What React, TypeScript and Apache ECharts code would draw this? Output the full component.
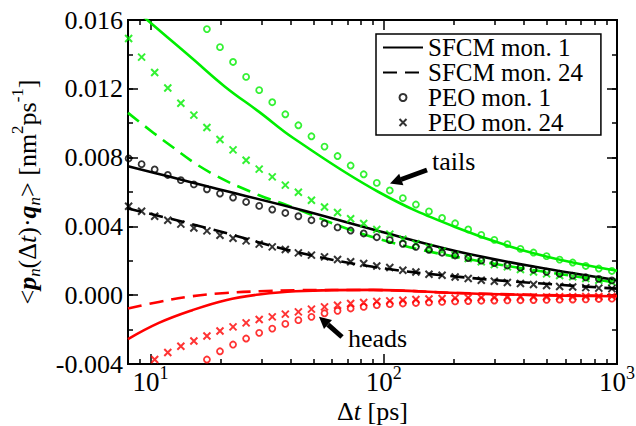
import React, { useEffect, useRef } from 'react';
import * as echarts from 'echarts';

const FONT = '"Liberation Serif", "Times New Roman", Times, serif';
const GREEN = '#00ee00';
const RED = '#ff0000';
const BLACK = '#000000';

// Sampling times (ps) of the PEO marker series
const markerX = [8.05, 9.15, 10.41, 11.85, 13.48, 15.33, 17.44, 19.84, 22.57, 25.68, 29.22, 33.24, 37.82, 43.02, 48.95, 55.69, 63.35, 72.08, 81.99, 93.3, 106.1, 120.7, 137.3, 156.2, 177.8, 202.2, 230.1, 261.8, 297.8, 338.8, 385.5, 438.5, 498.9, 567.6, 645.7, 734.6, 835.7, 950.7];

// PEO markers (values start at the given index of markerX)
const peo1AllStart = 0;
const peo1All = [0.00795, 0.00762, 0.00731, 0.00699, 0.00669, 0.00644, 0.00616, 0.00591, 0.00568, 0.00542, 0.00519, 0.00498, 0.00478, 0.00459, 0.00436, 0.00417, 0.00394, 0.00376, 0.00359, 0.00337, 0.0032, 0.00299, 0.00281, 0.00264, 0.00247, 0.00231, 0.00216, 0.00201, 0.00187, 0.00173, 0.0016, 0.00148, 0.00136, 0.00125, 0.00114, 0.00104, 0.00095, 0.00086];
const peo24AllStart = 0;
const peo24All = [0.00517, 0.00488, 0.00459, 0.00436, 0.00413, 0.00391, 0.00374, 0.00349, 0.00331, 0.00316, 0.00297, 0.00281, 0.00266, 0.00246, 0.00233, 0.00223, 0.00208, 0.00194, 0.00184, 0.0017, 0.00161, 0.00145, 0.00135, 0.00122, 0.00116, 0.00106, 0.00097, 0.00087, 0.00081, 0.00074, 0.00068, 0.00062, 0.00056, 0.00051, 0.00048, 0.00044, 0.00041, 0.00038];
const peo1TailsStart = 6;
const peo1Tails = [0.01547, 0.01442, 0.01356, 0.01269, 0.01192, 0.01122, 0.01052, 0.00988, 0.00924, 0.00864, 0.00809, 0.00754, 0.00703, 0.00653, 0.00609, 0.00564, 0.00527, 0.00487, 0.00449, 0.00418, 0.00382, 0.00351, 0.00322, 0.00297, 0.00269, 0.00248, 0.00227, 0.00207, 0.0019, 0.0017, 0.00155, 0.00141];
const peo24TailsStart = 0;
const peo24Tails = [0.01492, 0.01384, 0.01295, 0.01205, 0.01116, 0.01047, 0.00975, 0.00905, 0.00845, 0.00785, 0.00733, 0.00688, 0.0064, 0.00599, 0.00552, 0.00513, 0.00481, 0.00444, 0.00417, 0.00382, 0.00355, 0.00326, 0.003, 0.00277, 0.00256, 0.00233, 0.00213, 0.00194, 0.00178, 0.00165, 0.00149, 0.00135, 0.00124, 0.00115, 0.00107, 0.00097, 0.00087, 0.00077];
const peo1HeadsStart = 6;
const peo1Heads = [-0.00374, -0.00326, -0.00287, -0.00252, -0.00219, -0.00194, -0.00167, -0.00145, -0.00126, -0.00105, -0.00091, -0.00077, -0.00068, -0.00058, -0.00052, -0.00048, -0.00045, -0.00042, -0.00039, -0.00036, -0.00034, -0.00032, -0.00031, -0.0003, -0.00029, -0.00028, -0.00027, -0.00026, -0.00025, -0.00024, -0.00022, -0.0002];
const peo24HeadsStart = 2;
const peo24Heads = [-0.00374, -0.00333, -0.00297, -0.00266, -0.00237, -0.00208, -0.00184, -0.00161, -0.00141, -0.00126, -0.0011, -0.00097, -0.00081, -0.00068, -0.00058, -0.00048, -0.00042, -0.00037, -0.00033, -0.00029, -0.00025, -0.00022, -0.00019, -0.00017, -0.00015, -0.00014, -0.00013, -0.00012, -0.00011, -0.0001, -0.0001, -0.00009, -0.00009, -0.00008, -0.00008, -0.00007];

// SFCM curves
const sfcm1AllX = [8, 12, 17.8, 41.9, 89.9, 205, 445, 1000];
const sfcm1AllY = [0.0075, 0.0069, 0.0063, 0.00504, 0.00382, 0.00256, 0.00165, 0.00087];
const sfcm24AllX = [8, 17.8, 41, 90, 205, 450, 1000];
const sfcm24AllY = [0.00504, 0.00388, 0.00255, 0.00165, 0.00108, 0.0007, 0.00038];
const sfcm1TailsX = [8, 9.68, 15.1, 20.9, 29.2, 41.2, 95, 202, 443, 1000];
const sfcm1TailsY = [0.0170, 0.0160, 0.01376, 0.01211, 0.01066, 0.00911, 0.006, 0.00397, 0.00242, 0.00142];
const sfcm24TailsX = [8, 11.6, 17.8, 29.2, 36.8, 84.3, 200, 950, 1000];
const sfcm24TailsY = [0.0106, 0.00891, 0.00717, 0.00581, 0.00533, 0.00349, 0.00225, 0.00077, 0.00075];
const sfcm1HeadsX = [8, 10.85, 15.1, 21, 29.2, 41.9, 89.9, 205, 445, 1000];
const sfcm1HeadsY = [-0.00255, -0.00161, -0.00087, -0.00029, 0.00004, 0.00023, 0.00031, 0.00013, 0.0, -0.00006];
const sfcm24HeadsX = [8, 10.85, 15.1, 21, 29.2, 41.9, 90, 205, 445, 1000];
const sfcm24HeadsY = [-0.00077, -0.00039, -0.00006, 0.00013, 0.00023, 0.00029, 0.0003, 0.00013, 0.00002, -0.00004];

const xMajorTicks = [10, 100, 1000];
const xMinorTicks = [8, 9, 20, 30, 40, 50, 60, 70, 80, 90, 200, 300, 400, 500, 600, 700, 800, 900];
const lineLegendNames = ['SFCM mon. 1', 'SFCM mon. 24'];
const markerLegendNames = ['PEO mon. 1', 'PEO mon. 24'];

const zip = (xs: number[], ys: number[]) => ys.map((y, i) => [xs[i], y]);
const zipFrom = (start: number, ys: number[]) => ys.map((y, i) => [markerX[start + i], y]);

const CROSS = 'path://M0,0L10,10M10,0L0,10';

function lineSeries(name: string, data: number[][], color: string, dashed: boolean) {
  return {
    type: 'line',
    name,
    data,
    smooth: 0.4,
    symbol: 'none',
    showSymbol: false,
    clip: true,
    lineStyle: { color, width: 2.6, type: dashed ? [14, 8] : 'solid' },
    itemStyle: { color },
    z: 2,
  };
}

function markerSeries(name: string, data: number[][], color: string, cross: boolean) {
  return {
    type: 'scatter',
    name,
    data,
    clip: true,
    symbol: cross ? CROSS : 'circle',
    symbolSize: cross ? 7 : 6,
    itemStyle: { color: 'rgba(0,0,0,0)', borderColor: color, borderWidth: cross ? 2 : 1.8 },
    z: 3,
  };
}

const supStyle = { fontSize: 18, fontFamily: FONT, color: BLACK, lineHeight: 18, padding: [0, 0, 18, 0] };

function baseX(position: string, ticks: number[], len: number, labels: boolean) {
  return {
    type: 'log',
    logBase: 10,
    min: 8,
    max: 1000,
    position,
    axisLine: { show: true, onZero: false, lineStyle: { color: BLACK, width: 2 } },
    axisTick: { show: true, inside: true, length: len, customValues: ticks, lineStyle: { color: BLACK, width: 1.5 } },
    axisLabel: labels
      ? {
          show: true,
          customValues: xMajorTicks,
          margin: 4,
          fontSize: 27,
          lineHeight: 27,
          fontFamily: FONT,
          color: BLACK,
          formatter: (v: number) => '10{sup|' + Math.round(Math.log10(v)) + '}',
          rich: { sup: supStyle },
        }
      : { show: false },
    splitLine: { show: false },
    minorTick: { show: false },
    minorSplitLine: { show: false },
  };
}

function baseY(position: string, interval: number, len: number, labels: boolean) {
  return {
    type: 'value',
    min: -0.004,
    max: 0.016,
    interval,
    position,
    axisLine: { show: true, onZero: false, lineStyle: { color: BLACK, width: 2 } },
    axisTick: { show: true, inside: true, length: len, lineStyle: { color: BLACK, width: 1.5 } },
    axisLabel: labels
      ? { show: true, margin: 5, fontSize: 26, fontFamily: FONT, color: BLACK, formatter: (v: number) => v.toFixed(3) }
      : { show: false },
    splitLine: { show: false },
  };
}

export default function App() {
  const ref = useRef<HTMLDivElement>(null);
  useEffect(() => {
    if (!ref.current) return;
    const chart = echarts.init(ref.current, null, { renderer: 'svg' });
    const xAxis: any[] = [
      {
        ...baseX('bottom', xMajorTicks, 10, true),
        name: 'Δ{it|t} [ps]',
        nameLocation: 'middle',
        nameGap: 34,
        nameMoveOverlap: false,
        nameTextStyle: {
          fontSize: 26,
          lineHeight: 26,
          fontFamily: FONT,
          color: BLACK,
          verticalAlign: 'top',
          rich: { it: { fontSize: 26, lineHeight: 26, fontFamily: FONT, fontStyle: 'italic', color: BLACK } },
        },
      },
      baseX('bottom', xMinorTicks, 5, false),
      baseX('top', xMajorTicks, 10, false),
      baseX('top', xMinorTicks, 5, false),
    ];
    const yAxis: any[] = [
      {
        ...baseY('left', 0.004, 10, true),
        name: '<{bi|p}{sub|n}(Δ{it|t})·{bi|q}{sub|n}> [nm{sup|2}ps{sup|-1}]',
        nameLocation: 'middle',
        nameRotate: 90,
        nameGap: 82,
        nameMoveOverlap: false,
        nameTextStyle: {
          fontSize: 26,
          fontFamily: FONT,
          color: BLACK,
          rich: {
            bi: { fontSize: 26, fontFamily: FONT, fontWeight: 'bold', fontStyle: 'italic', color: BLACK },
            it: { fontSize: 26, fontFamily: FONT, fontStyle: 'italic', color: BLACK },
            sub: { fontSize: 17, fontFamily: FONT, fontStyle: 'italic', color: BLACK, padding: [14, 0, 0, 0] },
            sup: { fontSize: 17, fontFamily: FONT, color: BLACK, padding: [0, 0, 20, 0] },
          },
        },
      },
      baseY('left', 0.002, 5, false),
      baseY('right', 0.004, 10, false),
      baseY('right', 0.002, 5, false),
    ];

    const series: any[] = [
      lineSeries('tails SFCM mon. 1', zip(sfcm1TailsX, sfcm1TailsY), GREEN, false),
      lineSeries('tails SFCM mon. 24', zip(sfcm24TailsX, sfcm24TailsY), GREEN, true),
      lineSeries('heads SFCM mon. 1', zip(sfcm1HeadsX, sfcm1HeadsY), RED, false),
      lineSeries('heads SFCM mon. 24', zip(sfcm24HeadsX, sfcm24HeadsY), RED, true),
      lineSeries('SFCM mon. 1', zip(sfcm1AllX, sfcm1AllY), BLACK, false),
      lineSeries('SFCM mon. 24', zip(sfcm24AllX, sfcm24AllY), BLACK, true),
      markerSeries('tails PEO mon. 1', zipFrom(peo1TailsStart, peo1Tails), GREEN, false),
      markerSeries('tails PEO mon. 24', zipFrom(peo24TailsStart, peo24Tails), GREEN, true),
      markerSeries('heads PEO mon. 1', zipFrom(peo1HeadsStart, peo1Heads), RED, false),
      markerSeries('heads PEO mon. 24', zipFrom(peo24HeadsStart, peo24Heads), RED, true),
      markerSeries('PEO mon. 1', zipFrom(peo1AllStart, peo1All), BLACK, false),
      markerSeries('PEO mon. 24', zipFrom(peo24AllStart, peo24All), BLACK, true),
    ];

    chart.setOption({
      animation: false,
      backgroundColor: '#ffffff',
      grid: { left: 128, top: 20, right: 19, bottom: 62, containLabel: false, outerBoundsMode: 'none' },
      xAxis,
      yAxis,
      legend: {
        data: [
          ...lineLegendNames.map((n) => ({ name: n, itemStyle: { opacity: 0 } })),
          ...markerLegendNames.map((n) => ({ name: n })),
        ],
        orient: 'vertical',
        left: 376,
        top: 34,
        itemWidth: 40,
        itemHeight: 7,
        itemGap: 0,
        padding: [1, 18, 0, 6],
        borderColor: BLACK,
        borderWidth: 1.5,
        borderRadius: 0,
        backgroundColor: '#ffffff',
        selectedMode: false,
        textStyle: { fontSize: 25, fontFamily: FONT, color: BLACK, lineHeight: 24 },
      },
      graphic: [
        { type: 'line', shape: { x1: 427, y1: 170, x2: 401, y2: 179.5 }, style: { stroke: BLACK, lineWidth: 5 }, z: 10 },
        { type: 'polygon', shape: { points: [[390, 183.5], [403.4, 185.2], [399.2, 173.8]] }, style: { fill: BLACK }, z: 10 },
        { type: 'text', x: 432, y: 148, style: { text: 'tails', fontSize: 26, fontFamily: FONT, fill: BLACK, verticalAlign: 'top' }, z: 10 },
        { type: 'line', shape: { x1: 342, y1: 337, x2: 328, y2: 324.6 }, style: { stroke: BLACK, lineWidth: 5 }, z: 10 },
        { type: 'polygon', shape: { points: [[319, 316.7], [332, 320.1], [324, 329.1]] }, style: { fill: BLACK }, z: 10 },
        { type: 'text', x: 348, y: 325, style: { text: 'heads', fontSize: 26, fontFamily: FONT, fill: BLACK, verticalAlign: 'top' }, z: 10 },
      ],
      series,
    });
    return () => chart.dispose();
  }, []);
  return <div ref={ref} style={{ position: 'fixed', left: 0, top: 0, width: 636, height: 426 }} />;
}
